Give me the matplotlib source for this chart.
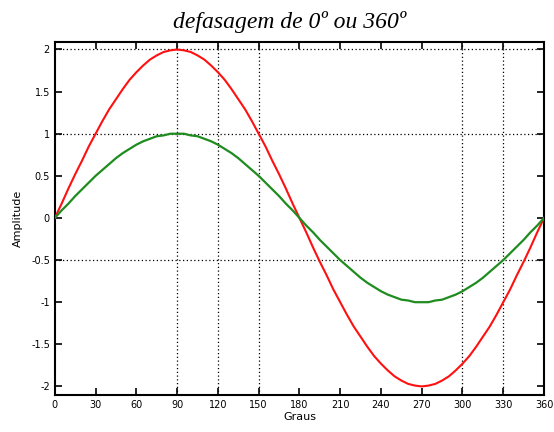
import matplotlib.pyplot as plt

# angles in degrees (x axis), every 5 degrees
graus = list(range(0, 361, 5))

# green wave, amplitude 1
onda_verde = [0, 0.09, 0.17, 0.26, 0.34, 0.42, 0.5, 0.57, 0.64, 0.71, 0.77, 0.82, 0.87, 0.91,
              0.94, 0.97, 0.98, 1.0, 1.0, 1.0, 0.98, 0.97, 0.94, 0.91, 0.87, 0.82, 0.77, 0.71,
              0.64, 0.57, 0.5, 0.42, 0.34, 0.26, 0.17, 0.09, 0,
              -0.09, -0.17, -0.26, -0.34, -0.42, -0.5, -0.57, -0.64, -0.71, -0.77, -0.82, -0.87,
              -0.91, -0.94, -0.97, -0.98, -1.0, -1.0, -1.0, -0.98, -0.97, -0.94, -0.91, -0.87,
              -0.82, -0.77, -0.71, -0.64, -0.57, -0.5, -0.42, -0.34, -0.26, -0.17, -0.09, 0]

# red wave, amplitude 2
onda_vermelha = [0, 0.17, 0.35, 0.52, 0.68, 0.85, 1.0, 1.15, 1.29, 1.41, 1.53, 1.64, 1.73, 1.81,
                 1.88, 1.93, 1.97, 1.99, 2.0, 1.99, 1.97, 1.93, 1.88, 1.81, 1.73, 1.64, 1.53,
                 1.41, 1.29, 1.15, 1.0, 0.85, 0.68, 0.52, 0.35, 0.17, 0,
                 -0.17, -0.35, -0.52, -0.68, -0.85, -1.0, -1.15, -1.29, -1.41, -1.53, -1.64,
                 -1.73, -1.81, -1.88, -1.93, -1.97, -1.99, -2.0, -1.99, -1.97, -1.93, -1.88,
                 -1.81, -1.73, -1.64, -1.53, -1.41, -1.29, -1.15, -1.0, -0.85, -0.68, -0.52,
                 -0.35, -0.17, 0]

xticks = [0, 30, 60, 90, 120, 150, 180, 210, 240, 270, 300, 330, 360]
yticks = [-2, -1.5, -1, -0.5, 0, 0.5, 1, 1.5, 2]
ytick_labels = ['-2', '-1.5', '-1', '-0.5', '0', '0.5', '1', '1.5', '2']

# grid lines that are visible in the original picture
grade_x = [90, 120, 150, 300, 330]
grade_y = [2, 1, -0.5]

fig = plt.figure(figsize=(5.54, 4.32), dpi=100)
ax = fig.add_axes([0.099, 0.086, 0.883, 0.817])

for gx in grade_x:
    ax.axvline(gx, color='black', linestyle=(0, (1, 2)), linewidth=0.9, zorder=1)
for gy in grade_y:
    ax.axhline(gy, color='black', linestyle=(0, (1, 2)), linewidth=0.9, zorder=1)

ax.plot(graus, onda_vermelha, color='#ff1010', linewidth=1.5, zorder=3)
ax.plot(graus, onda_verde, color='#1e8c1e', linewidth=1.6, zorder=3)

ax.set_xlim(0, 360)
ax.set_ylim(-2.1, 2.09)
ax.set_xticks(xticks)
ax.set_yticks(yticks)
ax.set_yticklabels(ytick_labels)
ax.tick_params(direction='in', top=True, right=True, length=5, width=1.2, labelsize=7)
for s in ax.spines.values():
    s.set_linewidth(1.5)

ax.set_xlabel('Graus', fontsize=8, labelpad=2)
ax.set_ylabel('Amplitude', fontsize=8, labelpad=6)
ax.set_title('defasagem de 0º ou 360º', fontsize=17, fontstyle='italic',
             family='Liberation Serif', pad=10, x=0.48)

fig.savefig('out.png', dpi=100)
